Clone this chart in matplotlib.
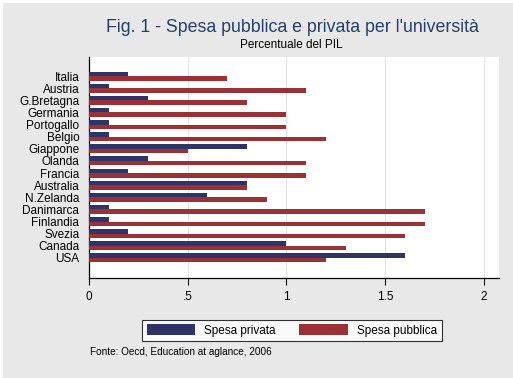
import matplotlib
matplotlib.use("Agg")
import matplotlib.pyplot as plt
import numpy as np
from matplotlib.patches import Rectangle

countries = ["Italia", "Austria", "G.Bretagna", "Germania", "Portogallo", "Belgio",
             "Giappone", "Olanda", "Francia", "Australia", "N.Zelanda", "Danimarca",
             "Finlandia", "Svezia", "Canada", "USA"]
spesa_privata = [0.2, 0.1, 0.3, 0.1, 0.1, 0.1, 0.8, 0.3, 0.2, 0.8, 0.6, 0.1, 0.1, 0.2, 1.0, 1.6]
spesa_pubblica = [0.7, 1.1, 0.8, 1.0, 1.0, 1.2, 0.5, 1.1, 1.1, 0.8, 0.9, 1.7, 1.7, 1.6, 1.3, 1.2]
xticks = [0, 0.5, 1, 1.5, 2]
xticklabels = ["0", ".5", "1", "1.5", "2"]

plt.rcParams['font.family'] = ['Liberation Sans', 'DejaVu Sans']

W, H = 513, 378
fig = plt.figure(figsize=(W / 100, H / 100), dpi=100, facecolor='white')
fig.patches.append(Rectangle((3 / W, 0), 1 - 3 / W, 1 - 3 / H, transform=fig.transFigure,
                             facecolor='#e8e8e8', edgecolor='none', zorder=-10))

left, right, top, bottom = 89, 499, 57, 278
ax = fig.add_axes([left / W, 1 - bottom / H, (right - left) / W, (bottom - top) / H])
ax.set_facecolor('white')

blue = '#2e3467'
red = '#993135'
y = np.arange(len(countries))
h = 0.37
ax.barh(y - h / 2, spesa_privata, height=h, color=blue, label='Spesa privata', zorder=3)
ax.barh(y + h / 2, spesa_pubblica, height=h, color=red, label='Spesa pubblica', zorder=3)

ax.set_ylim(len(countries) - 1 + 1.65, -1.57)
ax.set_xlim(0, 2.076)
ax.set_yticks(y)
ax.set_yticklabels(countries, fontsize=8.5)
ax.tick_params(axis='y', length=0, pad=7)
ax.set_xticks(xticks)
ax.set_xticklabels(xticklabels, fontsize=8.5)
ax.tick_params(axis='x', direction='out', length=5, width=0.8, pad=4)
ax.grid(axis='x', color='#e4e4e4', linewidth=0.8, zorder=0)
for s in ['top', 'right']:
    ax.spines[s].set_visible(False)
for s in ['left', 'bottom']:
    ax.spines[s].set_color('black')
    ax.spines[s].set_linewidth(0.9)

fig.text(292 / W, 1 - 27 / H, "Fig. 1 - Spesa pubblica e privata per l'università",
         ha='center', va='center', fontsize=12.8, color='#22406e')
fig.text(291 / W, 1 - 45 / H, "Percentuale del PIL", ha='center', va='center',
         fontsize=8.5, color='black')

leg = fig.legend(loc='center', bbox_to_anchor=(292 / W, 1 - 330.5 / H), ncol=2,
                 fontsize=8.5, frameon=True, fancybox=False, handlelength=4.1,
                 handleheight=1.0, columnspacing=2.0, borderpad=0.4, handletextpad=0.8,
                 borderaxespad=0)
leg.get_frame().set_edgecolor('black')
leg.get_frame().set_linewidth(0.8)
leg.get_frame().set_facecolor('white')

fig.text(90 / W, 1 - 352 / H, "Fonte: Oecd, Education at aglance, 2006", ha='left',
         va='center', fontsize=7.2, color='black')

fig.savefig('out.png', dpi=100, facecolor=fig.get_facecolor())
